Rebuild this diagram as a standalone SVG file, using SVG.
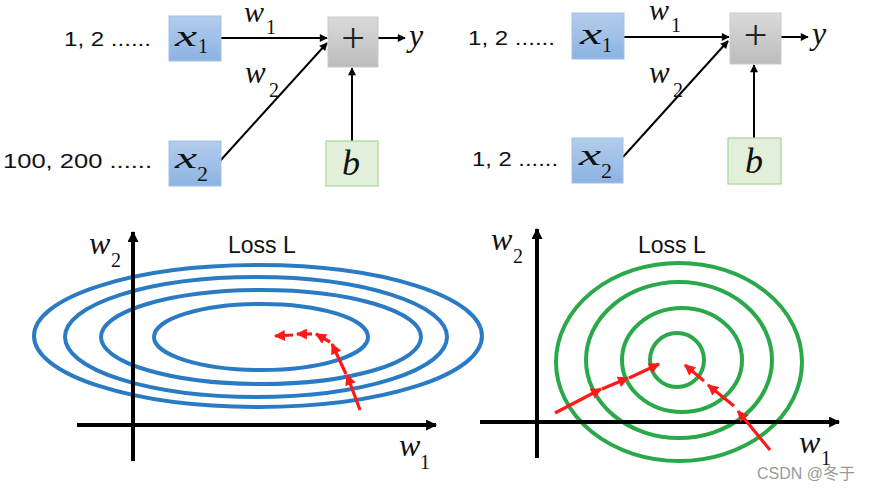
<svg xmlns="http://www.w3.org/2000/svg" width="882" height="490" viewBox="0 0 882 490">
<defs>
<linearGradient id="gBlue" x1="0" y1="0" x2="0" y2="1"><stop offset="0" stop-color="#b3cdec"/><stop offset="1" stop-color="#8cb3e2"/></linearGradient>
<linearGradient id="gGray" x1="0" y1="0" x2="0" y2="1"><stop offset="0" stop-color="#dadada"/><stop offset="1" stop-color="#bcbcbc"/></linearGradient>
<marker id="ah" viewBox="0 0 10 10" refX="9" refY="5" markerWidth="10" markerHeight="8" markerUnits="userSpaceOnUse" orient="auto"><path d="M0,0 L10,5 L0,10 z" fill="#000"/></marker>
<marker id="ahBig" viewBox="0 0 10 10" refX="9" refY="5" markerWidth="14" markerHeight="11" markerUnits="userSpaceOnUse" orient="auto"><path d="M0,0 L10,5 L0,10 z" fill="#000"/></marker>
<marker id="ahR" viewBox="0 0 10 10" refX="9" refY="5" markerWidth="12" markerHeight="11" markerUnits="userSpaceOnUse" orient="auto"><path d="M0,0 L10,5 L0,10 z" fill="#ff1a1a"/></marker>
</defs>
<style>
.lab{font-family:"Liberation Sans",Arial,sans-serif;font-size:21px;fill:#111}
.it{font-family:"Liberation Serif","Times New Roman",serif;font-style:italic;fill:#111}
.sub{font-family:"Liberation Serif","Times New Roman",serif;font-size:20px;fill:#111}
.bx{fill:url(#gBlue);stroke:#a4c0e6;stroke-width:1}
.gx{fill:url(#gGray);stroke:#c9c9c9;stroke-width:1}
.bb{fill:#e2efda;stroke:#a8d595;stroke-width:1.2}
.pl{font-family:"Liberation Serif","Times New Roman",serif;font-size:42px;fill:#222}
.cn{stroke:#000;stroke-width:2;fill:none}
.ax{stroke:#000;stroke-width:4;fill:none}
.el{fill:none;stroke:#2b7bc4;stroke-width:4}
.ci{fill:none;stroke:#2aa84a;stroke-width:4}
.ra{stroke:#ff1a1a;stroke-width:3.2;fill:none;marker-end:url(#ahR)}
.loss{font-family:"Liberation Sans",Arial,sans-serif;font-size:23px;fill:#111}
</style>

<!-- connectors -->
<g id="connectors">
<line class="cn" x1="221" y1="38" x2="327" y2="38" marker-end="url(#ah)"/>
<line class="cn" x1="220" y1="161" x2="327" y2="43" marker-end="url(#ah)"/>
<line class="cn" x1="352" y1="141" x2="352" y2="68" marker-end="url(#ah)"/>
<line class="cn" x1="378" y1="38" x2="405" y2="38" marker-end="url(#ah)"/>
<line class="cn" x1="624" y1="37" x2="729" y2="37" marker-end="url(#ah)"/>
<line class="cn" x1="623" y1="157" x2="728" y2="41" marker-end="url(#ah)"/>
<line class="cn" x1="754" y1="138" x2="754" y2="65" marker-end="url(#ah)"/>
<line class="cn" x1="781" y1="37" x2="808" y2="37" marker-end="url(#ah)"/>
</g>

<!-- top-left network -->
<g id="tl-in1"><text class="lab" x="64" y="46" textLength="87" lengthAdjust="spacingAndGlyphs">1, 2 ......</text></g>
<g id="tl-in2"><text class="lab" x="3" y="168" textLength="149" lengthAdjust="spacingAndGlyphs">100, 200 ......</text></g>
<g id="tl-x1"><rect class="bx" x="169" y="16" width="52" height="45"/><text class="it" x="175" y="46" font-size="30" textLength="22" lengthAdjust="spacingAndGlyphs">x</text><text class="sub" x="198" y="53" textLength="10" lengthAdjust="spacingAndGlyphs">1</text></g>
<g id="tl-x2"><rect class="bx" x="169" y="141" width="52" height="45"/><text class="it" x="175" y="168" font-size="30" textLength="22" lengthAdjust="spacingAndGlyphs">x</text><text class="sub" x="197" y="181" textLength="11" lengthAdjust="spacingAndGlyphs">2</text></g>
<g id="tl-plus"><rect class="gx" x="328" y="17" width="50" height="50"/><text class="pl" x="353" y="52" text-anchor="middle">+</text></g>
<g id="tl-b"><rect class="bb" x="326" y="141" width="52" height="45"/><text class="it" x="351" y="175" text-anchor="middle" font-size="36">b</text></g>
<g id="tl-y"><text class="it" x="409" y="46" font-size="32">y</text></g>
<g id="tl-w1"><text class="it" x="244" y="22" font-size="30">w</text><text class="sub" x="266" y="34">1</text></g>
<g id="tl-w2"><text class="it" x="245" y="83" font-size="31">w</text><text class="sub" x="269" y="97">2</text></g>

<!-- top-right network -->
<g id="tr-in1"><text class="lab" x="468" y="45" textLength="87" lengthAdjust="spacingAndGlyphs">1, 2 ......</text></g>
<g id="tr-in2"><text class="lab" x="472" y="166" textLength="86" lengthAdjust="spacingAndGlyphs">1, 2 ......</text></g>
<g id="tr-x1"><rect class="bx" x="572" y="13" width="52" height="46"/><text class="it" x="580" y="44" font-size="30" textLength="22" lengthAdjust="spacingAndGlyphs">x</text><text class="sub" x="602" y="52" textLength="10" lengthAdjust="spacingAndGlyphs">1</text></g>
<g id="tr-x2"><rect class="bx" x="572" y="138" width="51" height="45"/><text class="it" x="579" y="165" font-size="30" textLength="22" lengthAdjust="spacingAndGlyphs">x</text><text class="sub" x="601" y="178" textLength="11" lengthAdjust="spacingAndGlyphs">2</text></g>
<g id="tr-plus"><rect class="gx" x="730" y="13" width="51" height="51"/><text class="pl" x="755.5" y="49" text-anchor="middle">+</text></g>
<g id="tr-b"><rect class="bb" x="728" y="138" width="53" height="46"/><text class="it" x="754" y="173" text-anchor="middle" font-size="36">b</text></g>
<g id="tr-y"><text class="it" x="812" y="44" font-size="32">y</text></g>
<g id="tr-w1"><text class="it" x="649" y="20" font-size="30">w</text><text class="sub" x="671" y="32">1</text></g>
<g id="tr-w2"><text class="it" x="649" y="83" font-size="31">w</text><text class="sub" x="673" y="97">2</text></g>

<!-- bottom-left loss -->
<g id="bl-plot">
<ellipse class="el" cx="258" cy="336" rx="224" ry="71"/>
<ellipse class="el" cx="256" cy="337" rx="191" ry="60"/>
<ellipse class="el" cx="261" cy="337" rx="160" ry="47"/>
<ellipse class="el" cx="261" cy="337" rx="107" ry="33"/>
<line class="ax" x1="133" y1="461" x2="133" y2="232" marker-end="url(#ahBig)"/>
<line class="ax" x1="77" y1="425" x2="436" y2="425" marker-end="url(#ahBig)"/>
<line class="ra" x1="360" y1="410" x2="347" y2="375"/>
<line class="ra" x1="346" y1="374" x2="332" y2="344"/>
<line class="ra" x1="330" y1="342" x2="316" y2="334"/>
<line class="ra" x1="312" y1="334" x2="297" y2="334"/>
<line class="ra" x1="293" y1="335" x2="275" y2="336"/>
<text class="loss" x="228" y="253">Loss L</text>
<text class="it" x="89" y="254" font-size="32">w</text><text class="sub" x="111" y="267">2</text>
<text class="it" x="399" y="456" font-size="32">w</text><text class="sub" x="420" y="469">1</text>
</g>

<!-- bottom-right loss -->
<g id="br-plot">
<ellipse class="ci" cx="679" cy="362" rx="123" ry="99"/>
<ellipse class="ci" cx="679" cy="360" rx="93" ry="78"/>
<ellipse class="ci" cx="682" cy="360" rx="60" ry="52"/>
<ellipse class="ci" cx="677" cy="360" rx="27" ry="27"/>
<line class="ax" x1="537" y1="458" x2="537" y2="229" marker-end="url(#ahBig)"/>
<line class="ax" x1="480" y1="422" x2="839" y2="422" marker-end="url(#ahBig)"/>
<line class="ra" x1="555" y1="413" x2="601" y2="389"/>
<line class="ra" x1="602" y1="389" x2="628" y2="378"/>
<line class="ra" x1="629" y1="378" x2="659" y2="364"/>
<line class="ra" x1="770" y1="450" x2="738" y2="411"/>
<line class="ra" x1="734" y1="406" x2="708" y2="385"/>
<line class="ra" x1="704" y1="381" x2="685" y2="365"/>
<text class="loss" x="638" y="253">Loss L</text>
<text class="it" x="491" y="250" font-size="32">w</text><text class="sub" x="513" y="263">2</text>
<text class="it" x="799" y="453" font-size="32">w</text><text class="sub" x="821" y="465">1</text>
</g>

<g id="watermark"><text x="757" y="479" font-family="Liberation Sans,'Noto Sans CJK SC',sans-serif" font-size="16" fill="#9a9a9a">CSDN @冬于</text></g>
</svg>
